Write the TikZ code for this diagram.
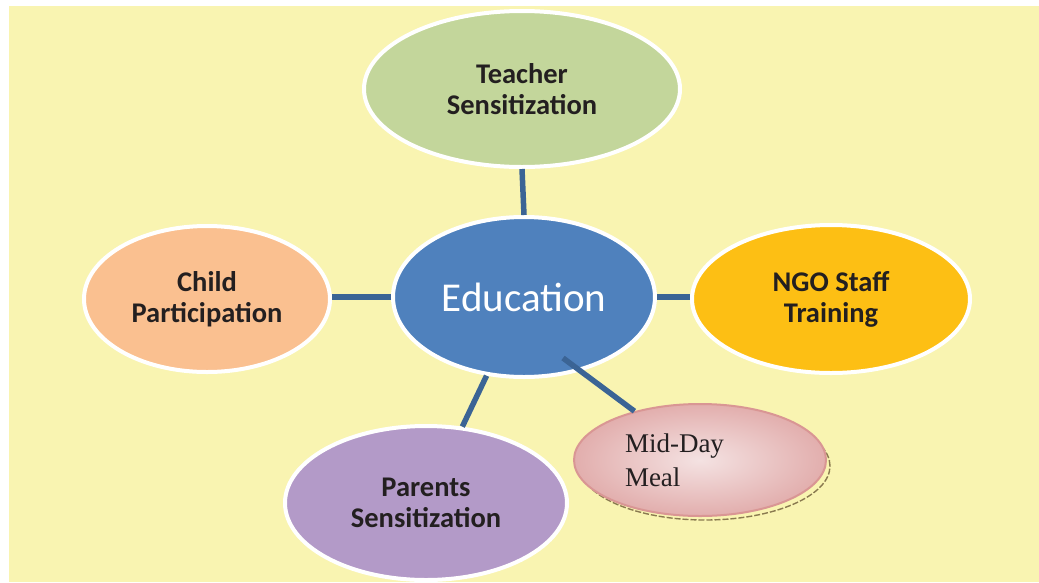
\documentclass[tikz,border=0pt]{standalone}
\usepackage{fontspec}
\setmainfont{Carlito}
\newfontfamily\mealfont{Liberation Serif}
\usetikzlibrary{shapes.geometric,shadings}
\definecolor{bgyellow}{HTML}{F9F4B1}
\definecolor{linkblue}{HTML}{3B6495}
\definecolor{edublue}{HTML}{4F81BD}
\definecolor{teachgreen}{HTML}{C3D69B}
\definecolor{childpeach}{HTML}{FAC090}
\definecolor{ngoyellow}{HTML}{FDBF14}
\definecolor{parpurple}{HTML}{B39AC8}
\definecolor{mealborder}{HTML}{D99694}
\definecolor{mealdark}{HTML}{E2AEAD}
\definecolor{meallight}{HTML}{F4E2E2}
\definecolor{shadowcol}{HTML}{8A7A50}
\definecolor{labeltext}{HTML}{231F20}
\tikzset{
  bubble/.style={ellipse, draw=white, line width=4pt, inner sep=0pt,
    align=center, text=labeltext,
    font=\fontsize{28.5}{31}\selectfont\bfseries},
  link/.style={draw=linkblue, line width=5.5pt},
}
\begin{document}
\begin{tikzpicture}[x=1pt,y=-1pt]
\useasboundingbox (0,0) rectangle (1039,582);
\fill[bgyellow] (9,6) rectangle (1039,582);
\node[bubble, fill=teachgreen, minimum width=316pt, minimum height=156pt] (teacher) at (522,89) {Teacher\\Sensitization};
\node[bubble, fill=childpeach, minimum width=246pt, minimum height=146pt] (child) at (207,299) {Child\\Participation};
\node[bubble, fill=ngoyellow, minimum width=278pt, minimum height=148pt] (ngo) at (831,299) {NGO Staff\\Training};
\node[bubble, fill=parpurple, minimum width=282pt, minimum height=154pt] (parents) at (426,503) {Parents\\Sensitization};
\node[bubble, fill=edublue, text=white, minimum width=262pt, minimum height=160pt,
  font=\fontsize{41}{44}\selectfont] (edu) at (524,297) {Education};
\draw[link] (teacher.south) -- (edu.north);
\draw[link] (edu.west) -- (edu.west -| child.east);
\draw[link] (edu.east) -- (edu.east -| ngo.west);
\draw[link] (edu) -- (parents);
% Mid-Day Meal
\coordinate (mdstart) at (563,358);
\draw[shadowcol, line width=1.4pt, dash pattern=on 6pt off 2pt] (705,466) ellipse (125pt and 54pt);
\node[ellipse, draw=mealborder, line width=2pt, inner sep=0pt,
  minimum width=252pt, minimum height=112pt,
  inner color=meallight, outer color=mealdark,
  text width=150pt, align=left, text=labeltext,
  font=\mealfont\fontsize{27}{34}\selectfont] (meal) at (700,460) {Mid-Day\\Meal};
\draw[link] (mdstart) -- (meal);
\end{tikzpicture}
\end{document}
